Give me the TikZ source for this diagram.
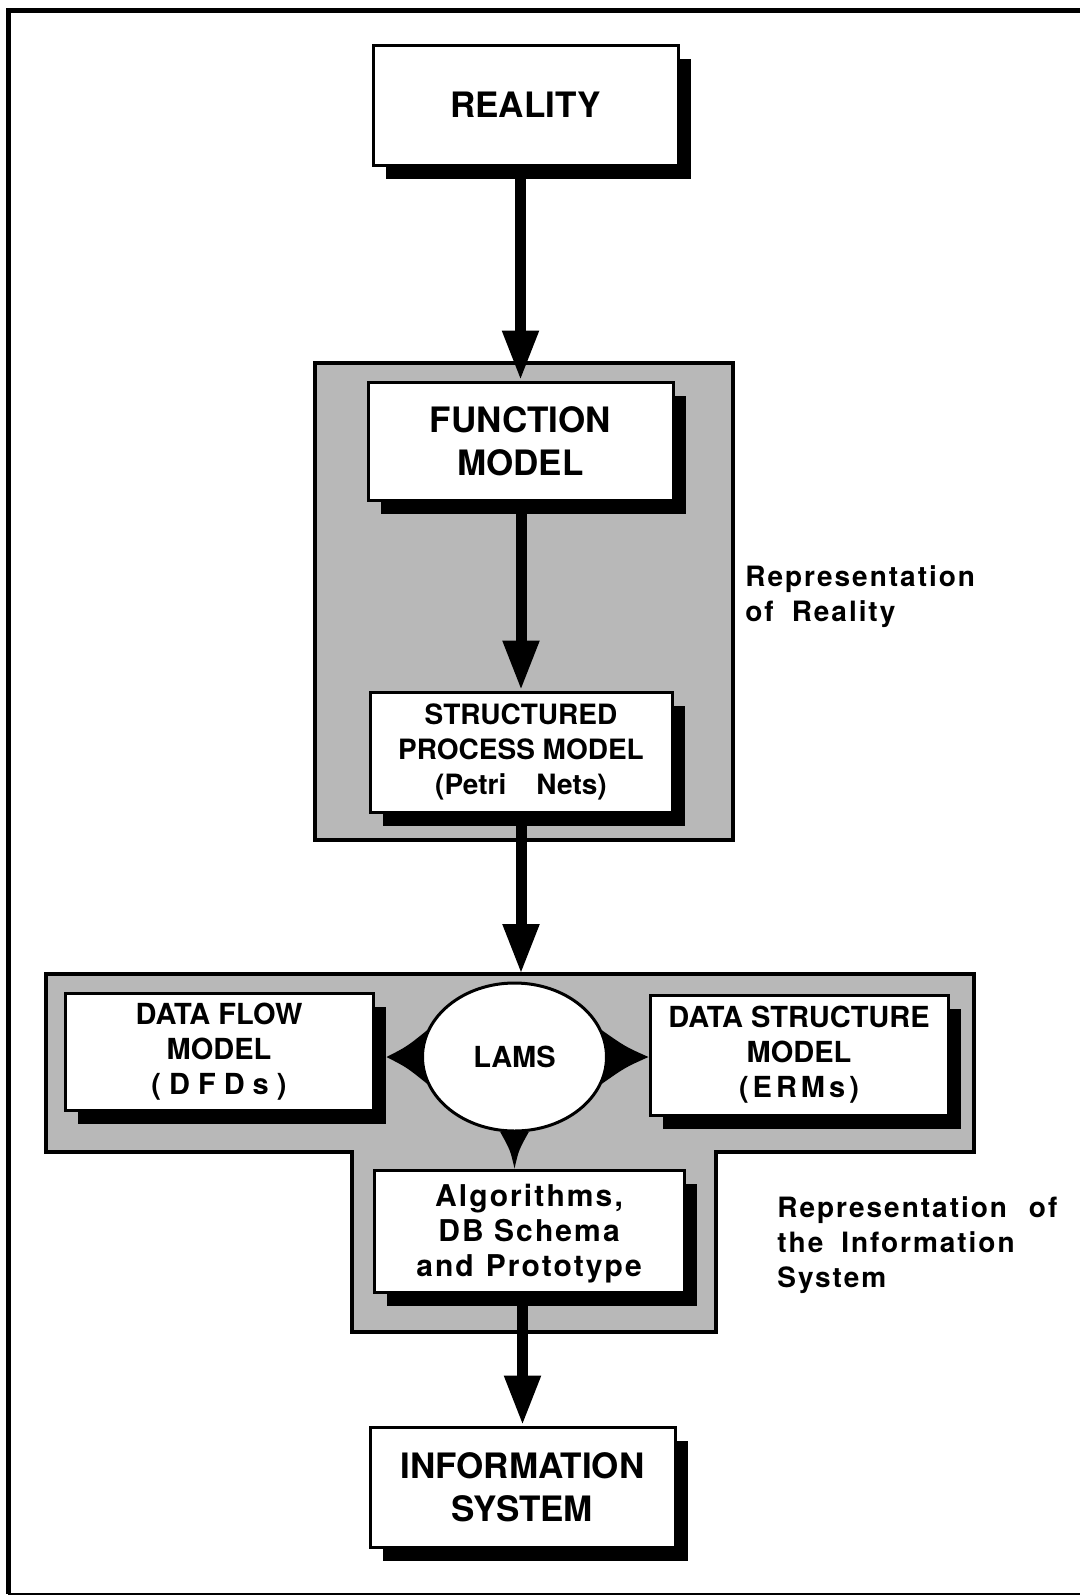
\documentclass[tikz,border=0pt]{standalone}
\usepackage{fontspec}
\setmainfont{TeX Gyre Heros}
\newfontfamily\trk[LetterSpace=7]{TeX Gyre Heros}
\usetikzlibrary{arrows.meta,shadows,shapes.geometric,calc}
\pgfdeclarelayer{bg}
\pgfdeclarelayer{midl}
\pgfsetlayers{bg,midl,main}
\tikzset{
  shbox/.style={draw=black, line width=1.5pt, fill=white, rectangle, inner sep=0pt, align=center,
    drop shadow={shadow xshift=6.5pt, shadow yshift=-7pt, fill=black, opacity=1}},
  bigtxt/.style={font=\fontsize{17.5}{21.5}\selectfont\bfseries},
  midtxt/.style={font=\fontsize{14}{17.5}\selectfont\bfseries},
  lowtxt/.style={font=\fontsize{14.5}{17.5}\selectfont\bfseries},
  algtxt/.style={font=\fontsize{15}{17.5}\selectfont\trk\bfseries},
  labtxt/.style={font=\fontsize{14}{17.5}\selectfont\trk\bfseries, align=left, anchor=west, inner sep=0pt},
  groupbox/.style={draw=black, line width=1.6pt, fill=black!28},
  flow/.style={line width=5.5pt, -{Triangle[length=25pt,width=17pt]}},
}
\begin{document}
\begin{tikzpicture}[x=0.5pt,y=-0.5pt]
\useasboundingbox (0,0) rectangle (1080,1596);
% outer frame
\draw[line width=2.5pt] (1080,10) -- (8,10) -- (8,1594);
\draw[line width=1.2pt] (8,1594) -- (1080,1594);

% groups
\begin{pgfonlayer}{bg}
\draw[groupbox] (315,363) rectangle (733,840);
\draw[groupbox] (46,974) -- (974,974) -- (974,1152) -- (716,1152) -- (716,1332)
  -- (352,1332) -- (352,1152) -- (46,1152) -- cycle;
\end{pgfonlayer}

% nodes
\node[shbox, bigtxt, minimum width=152.5pt, minimum height=60pt] (reality) at (525.5,105) {REALITY};
\node[shbox, bigtxt, minimum width=152.5pt, minimum height=59pt] (func) at (520.5,441) {FUNCTION\\MODEL};
\node[shbox, midtxt, minimum width=151pt, minimum height=60pt] (spm) at (521,752)
  {STRUCTURED\\PROCESS MODEL\\(Petri\hspace{15pt}Nets)};
\node[shbox, lowtxt, minimum width=154pt, minimum height=58.5pt] (dfd) at (219,1051.5)
  {DATA FLOW\\MODEL\\(\kern4pt D\kern4pt F\kern4pt D\kern4pt s\kern4pt)};
\node[shbox, lowtxt, minimum width=149pt, minimum height=60pt] (dsm) at (799,1055)
  {DATA STRUCTURE\\MODEL\\(\kern2pt E\kern2pt R\kern2pt M\kern2pt s\kern2pt)};
\node[shbox, algtxt, minimum width=155pt, minimum height=61pt] (alg) at (529,1231)
  {\rule{0pt}{14pt}Algorithms,\\DB Schema\\and\hspace{6pt}Prototype};
\node[shbox, bigtxt, minimum width=152.5pt, minimum height=60pt] (info) at (522.5,1487)
  {INFORMATION\\SYSTEM};
\node[ellipse, draw=black, line width=1.5pt, fill=white, inner sep=0pt,
  minimum width=92pt, minimum height=74pt, lowtxt] (lams) at (514.5,1057) {LAMS};

% wedges from LAMS
\coordinate (tipL) at ($(dfd.east |- lams.center)+(12,0)$);
\coordinate (tipR) at (dsm.west |- lams.center);
\coordinate (tipB) at (lams.south |- alg.north);
\begin{pgfonlayer}{midl}
\fill (lams.163) .. controls ($(lams.163)!0.5!(tipL)+(0,3)$) .. (tipL)
  .. controls ($(lams.197)!0.5!(tipL)+(0,-3)$) .. (lams.197) -- cycle;
\fill (lams.17) .. controls ($(lams.17)!0.5!(tipR)+(0,3)$) .. (tipR)
  .. controls ($(lams.-17)!0.5!(tipR)+(0,-3)$) .. (lams.-17) -- cycle;
\fill (lams.259) .. controls ($(lams.259)!0.5!(tipB)+(3,0)$) .. (tipB)
  .. controls ($(lams.281)!0.5!(tipB)+(-3,0)$) .. (lams.281) -- cycle;
\end{pgfonlayer}

% arrows
\coordinate (g2top) at (521,974);
\draw[flow] (func.north |- reality.south) -- (func.north);
\draw[flow] (spm.north |- func.south) -- (spm.north);
\draw[flow] (spm.south) -- (g2top);
\draw[flow] (info.north |- alg.south) -- (info.north);

% labels
\node[labtxt] (lab1) at (745,597) {Representation\\of\hspace{9pt}Reality};
\node[labtxt] (lab2) at (777,1245)
  {Representation\hspace{11pt}of\\the\hspace{9pt}Information\\System};
\end{tikzpicture}
\end{document}
